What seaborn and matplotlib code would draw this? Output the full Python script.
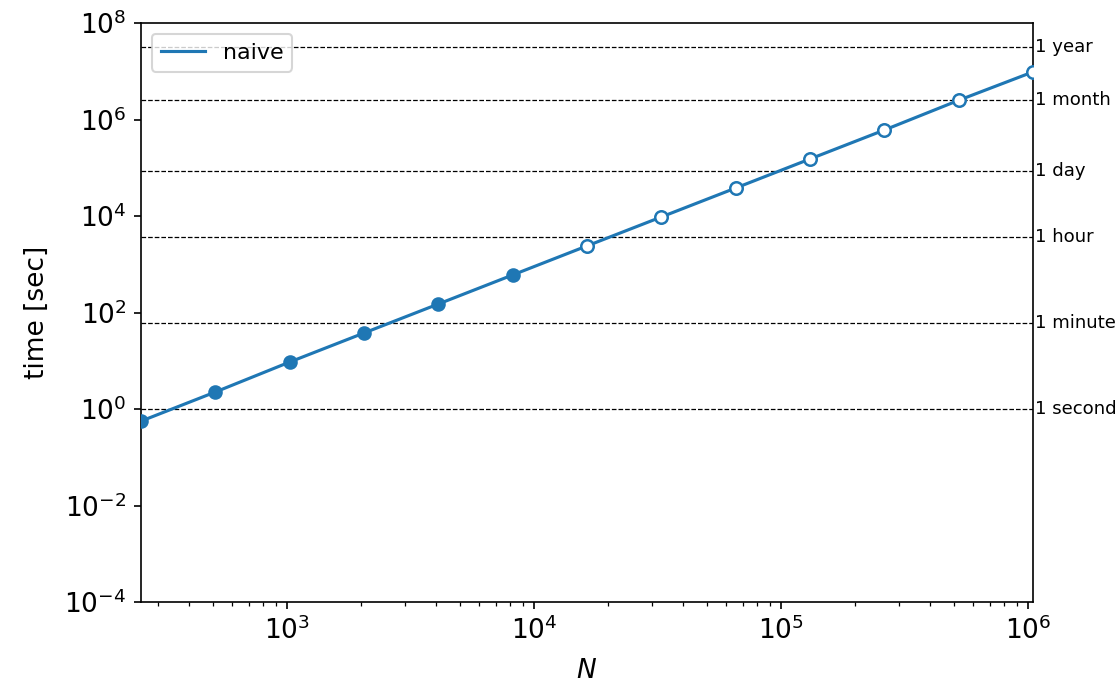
import numpy as np
import pandas as pd
import matplotlib
matplotlib.use("Agg")
import matplotlib.pyplot as plt
import seaborn as sns

# Data
N = [256, 512, 1024, 2048, 4096, 8192, 16384, 32768, 65536,
     131072, 262144, 524288, 1048576]
time_sec = [0.56, 2.25, 9.4, 37.6, 150, 600, 2400, 9550, 38000,
            152000, 605000, 2.5e6, 9.7e6]
measured = [True] * 6 + [False] * 7
series_name = "naive"

ref_labels = ["1 second", "1 minute", "1 hour", "1 day", "1 month", "1 year"]
ref_values = [1, 60, 3600, 86400, 30 * 86400, 365 * 86400]

df = pd.DataFrame({"N": N, "time": time_sec, "measured": measured})

DPI = 150
fig, ax = plt.subplots(figsize=(1119 / DPI, 686 / DPI), dpi=DPI)
fig.subplots_adjust(left=141 / 1119, right=1033 / 1119,
                    top=1 - 23 / 686, bottom=1 - 602 / 686)

color = "#1f77b4"
sns.lineplot(data=df, x="N", y="time", ax=ax, color=color,
             linewidth=1.5, label=series_name)
sns.scatterplot(data=df[df["measured"]], x="N", y="time", ax=ax,
                color=color, s=36, edgecolor=color, linewidth=1.0,
                zorder=3, legend=False)
sns.scatterplot(data=df[~df["measured"]], x="N", y="time", ax=ax,
                facecolor="white", s=36, edgecolor=color, linewidth=1.2,
                zorder=3, legend=False)

ax.set_xscale("log")
ax.set_yscale("log")
ax.set_xlim(N[0], N[-1])
ax.set_ylim(1e-4, 1e8)
ax.set_yticks([1e-4, 1e-2, 1e0, 1e2, 1e4, 1e6, 1e8])
ax.yaxis.set_minor_locator(matplotlib.ticker.NullLocator())

for lab, val in zip(ref_labels, ref_values):
    ax.axhline(val, color="black", linestyle="--", linewidth=0.6, zorder=1)
    ax.text(1.002, val, lab, transform=ax.get_yaxis_transform(),
            ha="left", va="center", fontsize=8.7)

ax.set_xlabel("$N$", fontsize=12.7, labelpad=6)
ax.set_ylabel("time [sec]", fontsize=12.7, labelpad=7)
ax.tick_params(labelsize=12.7)
ax.legend(loc="upper left", fontsize=10.6)

fig.savefig("out.png", dpi=DPI)
